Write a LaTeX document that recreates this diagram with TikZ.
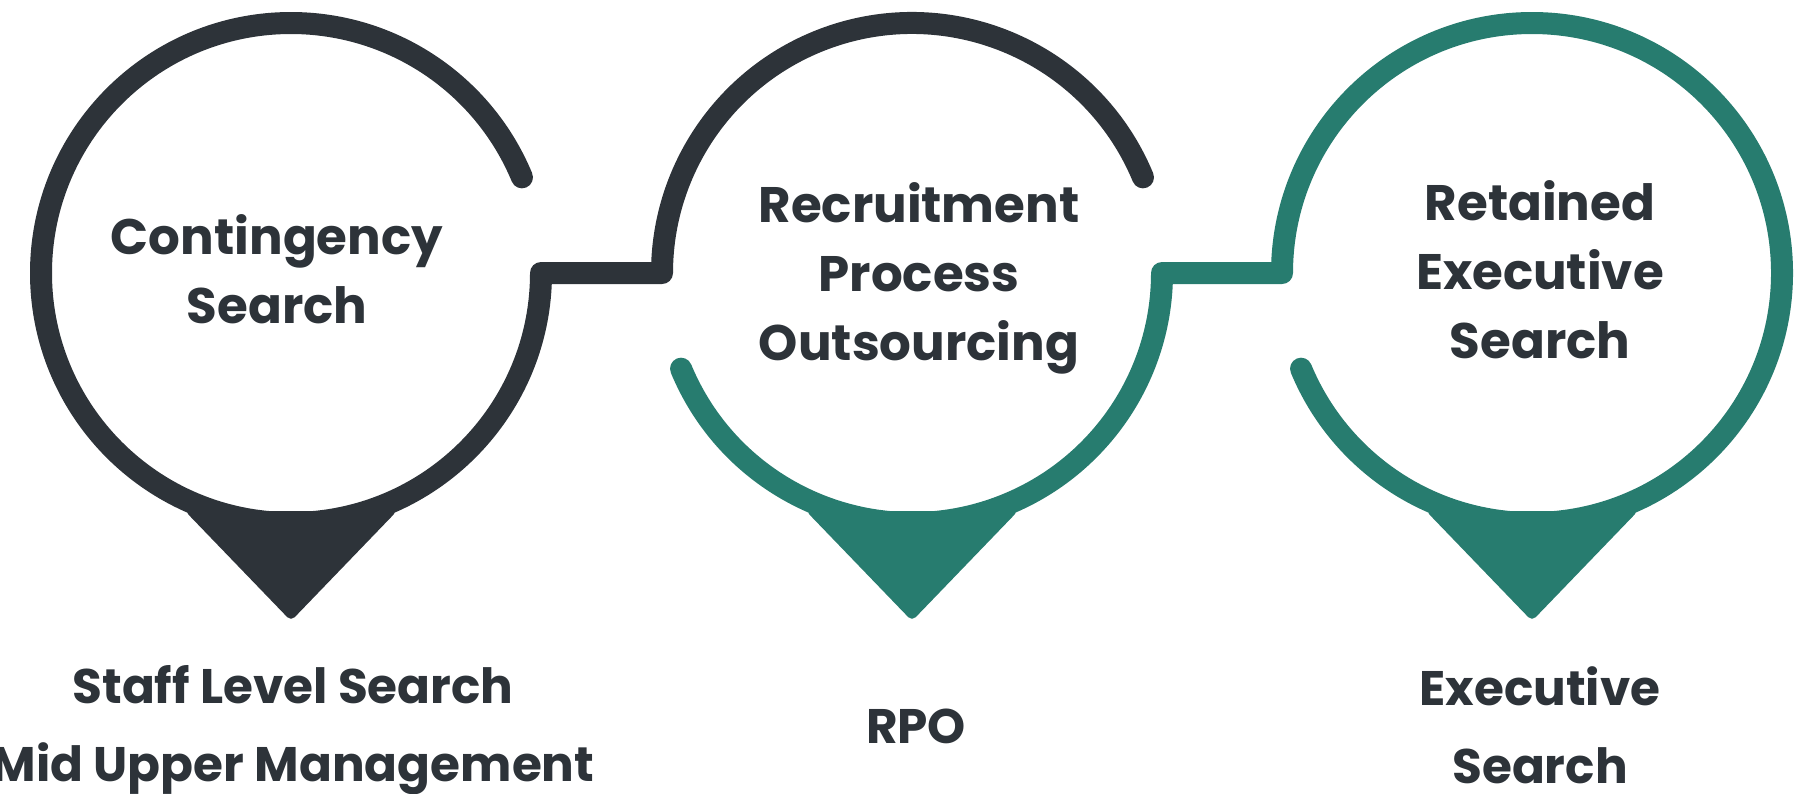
\documentclass[tikz,border=0pt]{standalone}
\usepackage{fontspec}
\setmainfont{Poppins}
\usetikzlibrary{calc}

\definecolor{inkdark}{RGB}{45,51,57}
\definecolor{inkteal}{RGB}{39,124,111}

\begin{document}
\begin{tikzpicture}[
    ring/.style={line width=0.22cm, line cap=round, line join=round},
    pin/.style={rounded corners=1.5pt},
    title/.style={align=center, text=inkdark, font=\bfseries\fontsize{14.2}{19.6}\selectfont},
    caption/.style={align=center, text=inkdark, font=\bfseries\fontsize{13.8}{22.2}\selectfont}
]
        \path[use as bounding box, clip] (0,0) rectangle (18.02,-7.93);

        % centres
        \coordinate (c1) at (2.91,-2.73);
        \coordinate (c2) at (9.12,-2.73);
        \coordinate (c3) at (15.32,-2.73);

        % Dark ring: circle 2 top, step, circle 1
        \draw [ring, inkdark] ($(c2)+(22.5:2.5)$) arc [start angle=22.5, end angle=180, radius=2.5]
            -- ($(c1)+(0:2.5)$) arc [start angle=0, end angle=-337.5, radius=2.5];

        % Teal ring: circle 2 bottom, step, circle 3
        \draw [ring, inkteal] ($(c2)+(202.5:2.5)$) arc [start angle=202.5, end angle=360, radius=2.5]
            -- ($(c3)+(180:2.5)$) arc [start angle=180, end angle=-157.5, radius=2.5];

        % Pins
        \fill [pin, inkdark] ($(c1)+(-1.06,-2.38)$) -- ($(c1)+(1.06,-2.38)$) -- ($(c1)+(0,-3.48)$) -- cycle;
        \fill [pin, inkteal] ($(c2)+(-1.06,-2.38)$) -- ($(c2)+(1.06,-2.38)$) -- ($(c2)+(0,-3.48)$) -- cycle;
        \fill [pin, inkteal] ($(c3)+(-1.06,-2.38)$) -- ($(c3)+(1.06,-2.38)$) -- ($(c3)+(0,-3.48)$) -- cycle;

        % Titles
        \node [title] (contingency) at (2.77,-2.69) {Contingency\\Search};
        \node [title] (rpotitle) at (9.19,-2.78) {Recruitment\\Process\\Outsourcing};
        \node [title] (retained) at (15.40,-2.70) {Retained\\Executive\\Search};

        % Captions
        \node [caption] (staff) at (2.93,-7.30) {Staff Level Search\\Mid Upper Management};
        \node [caption] (rpo) at (9.16,-7.26) {RPO};
        \node [caption] (exec) at (15.40,-7.25) {Executive\\Search};
\end{tikzpicture}
\end{document}
